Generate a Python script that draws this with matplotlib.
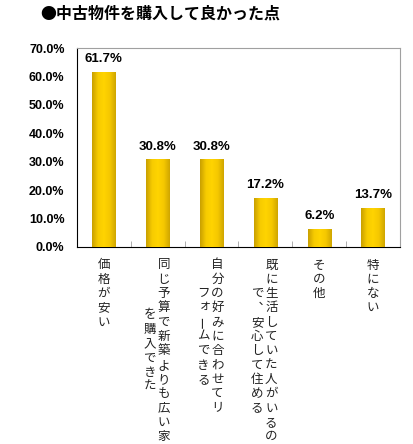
import numpy as np
import matplotlib.pyplot as plt
from matplotlib import transforms
from matplotlib.colors import LinearSegmentedColormap

# データ
title = "●中古物件を購入して良かった点"
categories = ["価格が安い",
              "同じ予算で新築よりも広い家\nを購入できた",
              "自分の好みに合わせてリ\nフォームできる",
              "既に生活していた人がいるの\nで、安心して住める",
              "その他",
              "特にない"]
values = [61.7, 30.8, 30.8, 17.2, 6.2, 13.7]
yticks = [0, 10, 20, 30, 40, 50, 60, 70]

jp = ["Noto Sans CJK JP", "DejaVu Sans"]
num_font = "Liberation Sans"

fig = plt.figure(figsize=(4.14, 4.44), dpi=100)
ax = fig.add_axes([0.186, 0.4437, 0.780, 0.448])

x = np.arange(len(values))
w = 0.43
bars = ax.bar(x, values, width=w, color="#F2C200", zorder=2)

# 金色のグラデーション
gold = LinearSegmentedColormap.from_list(
    "gold", ["#C9A000", "#F7CB00", "#FFD400", "#F5C800", "#CFA600"])
grad = np.linspace(0, 1, 64).reshape(1, -1)
for b in bars:
    im = ax.imshow(grad, cmap=gold, aspect="auto", zorder=3,
                   extent=[b.get_x(), b.get_x() + b.get_width(), 0, b.get_height()])
    im.set_clip_path(b)

ax.set_xlim(-0.5, len(values) - 0.5)
ax.set_ylim(0, 70)
ax.set_yticks(yticks)
ax.set_yticklabels([f"{v:.1f}%" for v in yticks], fontfamily=num_font,
                   fontweight="bold", fontsize=9)
ax.tick_params(axis="y", length=0, pad=9)
ax.set_xticks([])
ax.set_xticks(np.arange(0.5, len(values) - 0.5), minor=True)
ax.tick_params(axis="x", which="minor", direction="in", length=4, color="#A0A0A0")
ax.tick_params(axis="x", which="major", length=0)

for s in ["top", "right"]:
    ax.spines[s].set_color("#A0A0A0")
for s in ["left", "bottom"]:
    ax.spines[s].set_color("black")

for xi, v in zip(x, values):
    ax.annotate(f"{v:.1f}%", (xi, v), xytext=(0, 5), textcoords="offset points",
                ha="center", va="bottom", fontfamily=num_font, fontweight="bold",
                fontsize=9.5)

# 縦書きラベル (行ごとに中央揃え)
step = 14.3
col_gap = 14
first = 18
small = "ァィゥェォャュョッ"
vert = {"、": "︑", "ー": "ー"}
base = ax.get_xaxis_transform()
for xi, lab in zip(x, categories):
    lines = lab.split("\n")
    n = len(lines)
    longest = max(len(l) for l in lines)
    for j, line in enumerate(lines):
        dx = ((n - 1) / 2 - j) * col_gap - (n - 1)
        pos = (longest - len(line)) / 2
        for ch in line:
            ex, ey = (2, 2) if ch in small else (0, 0)
            tr = transforms.offset_copy(base, fig=fig, x=dx + ex,
                                        y=-(first + pos * step) + ey, units="dots")
            rot = 90 if ch == "ー" else 0
            ax.text(xi, 0, vert.get(ch, ch), transform=tr, ha="center", va="center",
                    rotation=rot, fontfamily=jp, fontsize=9, color="#222222",
                    clip_on=False)
            pos += 1

fig.text(40 / 414, 1 - 14 / 444, title, fontfamily=jp, fontweight="bold",
         fontsize=11.5, ha="left", va="center")

fig.savefig("out.png", dpi=100)
